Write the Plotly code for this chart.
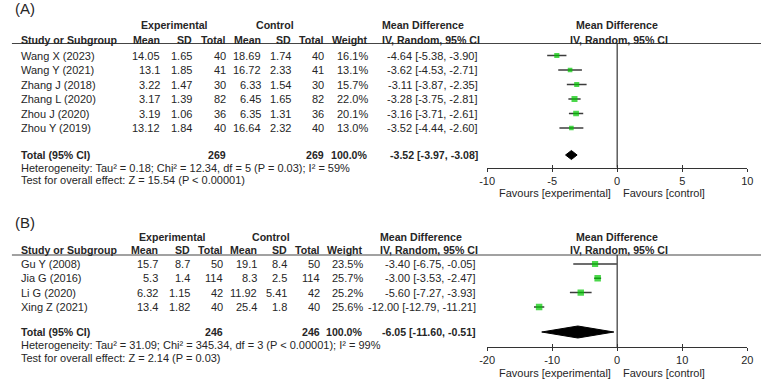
import plotly.graph_objects as go

# ---------------- Data: panel A ----------------
studies_a = ["Wang X (2023)", "Wang Y (2021)", "Zhang J (2018)", "Zhang L (2020)", "Zhou J (2020)", "Zhou Y (2019)"]
exp_mean_a = [14.05, 13.1, 3.22, 3.17, 3.19, 13.12]
exp_sd_a = [1.65, 1.85, 1.47, 1.39, 1.06, 1.84]
exp_n_a = [40, 41, 30, 82, 36, 40]
ctl_mean_a = [18.69, 16.72, 6.33, 6.45, 6.35, 16.64]
ctl_sd_a = [1.74, 2.33, 1.54, 1.65, 1.31, 2.32]
ctl_n_a = [40, 41, 30, 82, 36, 40]
weight_a = [16.1, 13.1, 15.7, 22.0, 20.1, 13.0]
md_a = [-4.64, -3.62, -3.11, -3.28, -3.16, -3.52]
lo_a = [-5.38, -4.53, -3.87, -3.75, -3.71, -4.44]
hi_a = [-3.90, -2.71, -2.35, -2.81, -2.61, -2.60]
total_a = {"n_exp": 269, "n_ctl": 269, "md": -3.52, "lo": -3.97, "hi": -3.08}
het_a = "Heterogeneity: Tau² = 0.18; Chi² = 12.34, df = 5 (P = 0.03); I² = 59%"
test_a = "Test for overall effect: Z = 15.54 (P < 0.00001)"
ticks_a = [-10, -5, 0, 5, 10]

# ---------------- Data: panel B ----------------
studies_b = ["Gu Y (2008)", "Jia G (2016)", "Li G (2020)", "Xing Z (2021)"]
exp_mean_b = [15.7, 5.3, 6.32, 13.4]
exp_sd_b = [8.7, 1.4, 1.15, 1.82]
exp_n_b = [50, 114, 42, 40]
ctl_mean_b = [19.1, 8.3, 11.92, 25.4]
ctl_sd_b = [8.4, 2.5, 5.41, 1.8]
ctl_n_b = [50, 114, 42, 40]
weight_b = [23.5, 25.7, 25.2, 25.6]
md_b = [-3.40, -3.00, -5.60, -12.00]
lo_b = [-6.75, -3.53, -7.27, -12.79]
hi_b = [-0.05, -2.47, -3.93, -11.21]
total_b = {"n_exp": 246, "n_ctl": 246, "md": -6.05, "lo": -11.60, "hi": -0.51}
het_b = "Heterogeneity: Tau² = 31.09; Chi² = 345.34, df = 3 (P < 0.00001); I² = 99%"
test_b = "Test for overall effect: Z = 2.14 (P = 0.03)"
ticks_b = [-20, -10, 0, 10, 20]

W, H = 767, 379
FONT = "Liberation Sans, Arial, sans-serif"
TXT = "#262626"
FS = 11
FSB = 10.6

fig = go.Figure()
ann = []
shapes = []


def text(x, y, s, anchor="left", bold=False, size=None, color=TXT):
    if size is None:
        size = FSB if bold else FS
    if bold:
        s = "<b>" + s + "</b>"
    ann.append(dict(x=x, y=y, xref="x", yref="y", text=s, showarrow=False,
                    xanchor=anchor, yanchor="middle", borderpad=0, borderwidth=0,
                    font=dict(family=FONT, size=size, color=color)))


def panel(label, ylab, yh1, yh2, yline, row0, step, ytot, yhet, ytest,
          cols, mdx, studies, em, esd, en, cm, csd, cn, wt, md, lo, hi, tot,
          het, test, xa, yaxis_pos, yfav, dh):
    text(7, ylab, label, size=15)
    # header row 1
    text(cols[1] - 17, yh1, "Experimental", anchor="center", bold=True)
    text(cols[4] - 16, yh1, "Control", anchor="center", bold=True)
    text(mdx - 98, yh1, "Mean Difference", bold=True)
    text(620, yh1, "Mean Difference", anchor="center", bold=True)
    # header row 2
    text(13, yh2, "Study or Subgroup", bold=True)
    for cx, lab in zip(cols, ["Mean", "SD", "Total", "Mean", "SD", "Total", "Weight"]):
        text(cx, yh2, lab, anchor="right", bold=True)
    text(mdx - 98, yh2, "IV, Random, 95% CI", bold=True)
    text(622, yh2, "IV, Random, 95% CI", anchor="center", bold=True)
    shapes.append(dict(type="line", xref="x", yref="y", x0=4, x1=W, y0=yline, y1=yline,
                       line=dict(color="#444444", width=1.2)))
    rows = [row0 + i * step for i in range(len(studies))]
    for i, y in enumerate(rows):
        text(13, y, studies[i])
        vals = [str(em[i]), str(esd[i]), str(en[i]), str(cm[i]), str(csd[i]), str(cn[i]),
                f"{wt[i]:.1f}%"]
        for cx, v in zip(cols, vals):
            text(cx, y, v, anchor="right")
        text(mdx, y, f"{md[i]:.2f} [{lo[i]:.2f}, {hi[i]:.2f}]", anchor="right")
    # totals
    text(13, ytot, "Total (95% CI)", bold=True)
    text(cols[2], ytot, str(tot["n_exp"]), anchor="right", bold=True)
    text(cols[5], ytot, str(tot["n_ctl"]), anchor="right", bold=True)
    text(cols[6], ytot, "100.0%", anchor="right", bold=True)
    text(mdx, ytot, f"{tot['md']:.2f} [{tot['lo']:.2f}, {tot['hi']:.2f}]", anchor="right", bold=True)
    text(13, yhet, het)
    text(13, ytest, test)
    # favours labels
    text(614, yfav, "Favours [experimental]", anchor="right")
    text(626, yfav, "Favours [control]", anchor="left")

    # CI lines
    cx_, cy_ = [], []
    for i, y in enumerate(rows):
        cx_ += [lo[i], hi[i], None]
        cy_ += [y, y, None]
    fig.add_trace(go.Scatter(x=cx_, y=cy_, mode="lines", xaxis=xa, yaxis="y",
                             line=dict(color="#3c3c3c", width=1.5), hoverinfo="skip"))
    # weighted squares
    fig.add_trace(go.Scatter(x=md, y=rows, mode="markers", xaxis=xa, yaxis="y",
                             marker=dict(symbol="square", color="#00c800",
                                         size=[1.28 * w ** 0.5 for w in wt],
                                         line=dict(width=0))))
    # diamond
    fig.add_trace(go.Scatter(x=[tot["lo"], tot["md"], tot["hi"], tot["md"], tot["lo"]],
                             y=[ytot, ytot - dh, ytot, ytot + dh, ytot],
                             mode="lines", fill="toself", fillcolor="black",
                             line=dict(color="black", width=1), xaxis=xa, yaxis="y"))
    # zero line
    shapes.append(dict(type="line", xref=xa, yref="y", x0=0, x1=0, y0=yline, y1=yaxis_pos,
                       line=dict(color="#333333", width=1.2)))
    return rows


YAX_A, YAX_B = 167.5, 347

panel("(A)", 8, 25, 40, 43.5, 55.5, 14.5, 155, 167.5, 179.5,
      [155, 187, 222, 258, 288, 322, 367], 479,
      studies_a, exp_mean_a, exp_sd_a, exp_n_a, ctl_mean_a, ctl_sd_a, ctl_n_a,
      weight_a, md_a, lo_a, hi_a, total_a, het_a, test_a,
      "x2", YAX_A, 193, 4.5)

panel("(B)", 222, 237, 250, 255, 264, 14.3, 332, 345, 357.5,
      [153, 185, 219, 254, 284, 318, 362], 477,
      studies_b, exp_mean_b, exp_sd_b, exp_n_b, ctl_mean_b, ctl_sd_b, ctl_n_b,
      weight_b, md_b, lo_b, hi_b, total_b, het_b, test_b,
      "x3", YAX_B, 372.5, 6)

dom = [488 / W, 753 / W]


def fax(rng, ticks, ypix, overlay=None, inside=False):
    d = dict(domain=dom, range=rng, anchor="free", position=1 - ypix / H,
             showgrid=False, zeroline=False, tickvals=ticks,
             ticktext=[str(t) for t in ticks], fixedrange=True)
    if inside:
        d.update(ticks="inside", ticklen=3, tickwidth=1.2, tickcolor="#333333",
                 showticklabels=False, showline=False, overlaying=overlay)
    else:
        d.update(ticks="outside", ticklen=3, tickwidth=1.2, tickcolor="#333333",
                 showline=True, linecolor="#333333", linewidth=1.2,
                 tickfont=dict(family=FONT, size=FS, color=TXT))
    return d


fig.update_layout(
    width=W, height=H, margin=dict(l=0, r=0, t=0, b=0, pad=0),
    paper_bgcolor="white", plot_bgcolor="rgba(0,0,0,0)", showlegend=False,
    xaxis=dict(range=[0, W], domain=[0, 1], visible=False, fixedrange=True),
    yaxis=dict(range=[H, 0], domain=[0, 1], visible=False, fixedrange=True),
    xaxis2=fax([-10, 10], ticks_a, YAX_A),
    xaxis3=fax([-20, 20], ticks_b, YAX_B),
    xaxis4=fax([-10, 10], ticks_a, YAX_A, overlay="x2", inside=True),
    xaxis5=fax([-20, 20], ticks_b, YAX_B, overlay="x3", inside=True),
    annotations=ann, shapes=shapes,
)
# empty traces so the overlay tick axes render
fig.add_trace(go.Scatter(x=[None], y=[None], xaxis="x4", yaxis="y", showlegend=False))
fig.add_trace(go.Scatter(x=[None], y=[None], xaxis="x5", yaxis="y", showlegend=False))

fig.write_html("out.html")
